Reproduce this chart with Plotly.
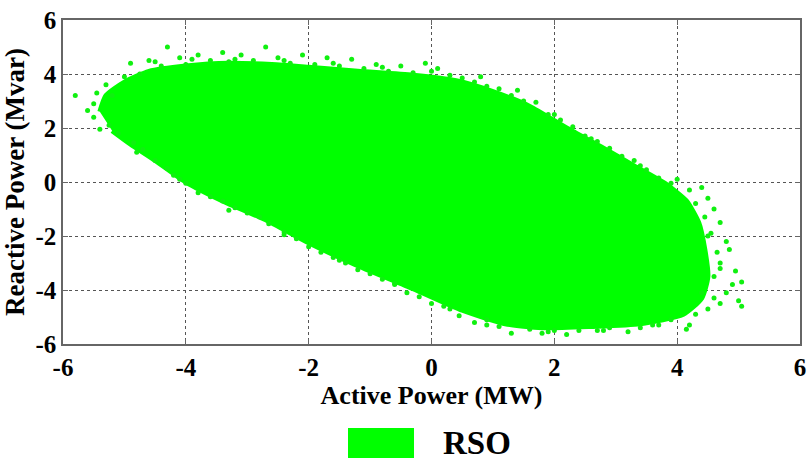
import plotly.graph_objects as go

# Dense core outline of the RSO cloud (Active Power MW, Reactive Power Mvar)
core_x = [-5.4, -5.3, -5.0, -4.6, -4.0, -3.3, -2.6, -2.0, -1.2, -0.3, 0.4, 1.0, 1.6, 2.2, 2.8, 3.3, 3.8, 4.15,
          4.35, 4.45, 4.5, 4.4, 4.1, 3.4, 2.6, 1.8, 1.2, 0.5, -0.3, -1.2, -2.0, -2.7, -3.4, -4.0, -4.5, -4.9, -5.2]
core_y = [2.6, 3.2, 3.7, 4.1, 4.3, 4.4, 4.35, 4.25, 4.1, 3.95, 3.75, 3.35, 2.8, 2.0, 1.25, 0.6, -0.05, -0.7,
          -1.5, -2.5, -3.5, -4.3, -4.9, -5.25, -5.35, -5.4, -5.25, -4.75, -3.95, -3.1, -2.25, -1.4, -0.7, -0.0, 0.8, 1.4, 1.9]

# Scattered edge points of the cloud
edge_x = [-5.8, -5.5, -5.45, -5.3, -5.2, -5.0, -4.9, -4.75, -4.6, -4.4, -4.3, -4.1, -4.0, -3.8, -3.6, -3.4,
          -3.3, -3.1, -2.9, -2.7, -2.5, -2.3, -2.1, -1.9, -1.7, -1.5, -1.3, -1.1, -0.9, -0.7, -0.5, -0.3,
          -0.1, 0.1, 0.3, 0.5, 0.7, 0.9, 1.1, 1.3, 1.5, 1.7, 1.9, 2.1, 2.3, 2.5, 2.7, 2.9, 3.1, 3.3, 3.5,
          3.7, 3.9, 4.0,
          4.2, 4.4, 4.5, 4.6, 4.45, 4.7, 4.55, 4.8, 4.65, 4.85, 4.7, 4.95, 4.6, 4.9, 5.05, 4.8, 5.0, 5.05,
          4.7, 4.5, 4.3, 4.2, 4.15,
          3.9, 3.7, 3.4, 3.2, 2.9, 2.7, 2.4, 2.2, 2.0, 1.8, 1.6, 1.3, 1.1, 0.9, 0.7, 0.45, 0.2, 0.0, -0.2,
          -0.4, -0.6, -0.8, -1.0, -1.2, -1.4, -1.6, -1.8, -2.0, -2.2, -2.4, -2.65, -2.8, -3.0, -3.2, -3.4,
          -3.6, -3.8, -4.0, -4.1, -4.3, -4.5, -4.7, -4.85, -5.1, -5.25, -5.5, -5.6,
          -4.5, -3.9, -3.2, -2.4, -1.6, -0.8, 0.0, 0.8, 1.4, 2.0, 2.6, 3.4, 4.3, 4.5, 4.7, 4.4, 4.6,
          3.6, 2.8, 1.9, 0.9, 0.3, -0.6, -1.5, -2.4, -3.3, -4.2, -4.8, -5.4]
edge_y = [3.2, 2.9, 3.3, 3.6, 3.2, 3.9, 4.4, 4.0, 4.5, 4.3, 5.0, 4.6, 4.35, 4.7, 4.5, 4.8,
          4.45, 4.7, 4.5, 5.0, 4.6, 4.4, 4.7, 4.35, 4.6, 4.3, 4.55, 4.2, 4.35, 4.1, 4.3, 4.05,
          4.4, 4.2, 3.95, 3.85, 3.7, 3.55, 3.45, 3.2, 3.0, 2.95, 2.5, 2.3, 2.05, 1.7, 1.5, 1.25, 0.95, 0.8, 0.45,
          0.15, -0.05, 0.1,
          -0.3, -0.2, -0.6, -1.0, -1.3, -1.5, -1.9, -2.2, -2.6, -2.5, -3.0, -3.3, -3.5, -3.8, -3.7, -4.1, -4.4, -4.6,
          -4.5, -4.7, -4.9, -5.3, -5.45,
          -5.1, -5.3, -5.4, -5.55, -5.4, -5.5, -5.5, -5.65, -5.5, -5.6, -5.45, -5.6, -5.35, -5.3, -5.2, -4.95, -4.6, -4.5, -4.25,
          -4.1, -3.8, -3.6, -3.4, -3.25, -3.0, -2.8, -2.6, -2.4, -2.1, -1.85, -1.55, -1.3, -1.15, -0.95, -0.7,
          -0.55, -0.4, -0.05, 0.1, 0.5, 0.8, 1.2, 1.45, 1.8, 2.1, 2.4, 2.65,
          4.45, 4.55, 4.55, 4.5, 4.4, 4.25, 4.1, 3.9, 3.4, 2.5, 1.6, 0.6, -0.8, -2.0, -3.2, -4.1, -4.3,
          -5.3, -5.5, -5.55, -5.1, -4.7, -3.75, -2.9, -1.95, -1.05, 0.25, 1.1, 1.95]

tick_vals = [-6, -4, -2, 0, 2, 4, 6]
series_name = "RSO"
x_title = "Active Power (MW)"
y_title = "Reactive Power (Mvar)"

GREEN = "#00ff00"
FONT = "Liberation Serif"

fig = go.Figure()
fig.add_trace(go.Scatter(x=core_x, y=core_y, fill="toself", fillcolor=GREEN, mode="lines",
                         line=dict(color=GREEN, width=5, shape="spline", smoothing=0.6), showlegend=False,
                         hoverinfo="skip"))
fig.add_trace(go.Scatter(x=edge_x, y=edge_y, mode="markers", name=series_name,
                         marker=dict(color="#10f010", size=5), showlegend=False))

axis_common = dict(
    range=[-6, 6], tickvals=tick_vals, ticktext=[str(v) for v in tick_vals],
    showgrid=True, gridcolor="#555555", griddash="dot", gridwidth=1,
    showline=True, linecolor="#666666", linewidth=1.5, mirror="allticks",
    ticks="inside", ticklen=5, tickcolor="#666666",
    zeroline=False,
    tickfont=dict(family=FONT, size=25, color="black", weight="bold"),
)

fig.update_xaxes(**axis_common,
                 title=dict(text=x_title, standoff=0,
                            font=dict(family=FONT, size=26, color="black", weight="bold")))
fig.update_yaxes(**axis_common,
                 title=dict(text=y_title, standoff=4,
                            font=dict(family=FONT, size=27, color="black", weight="bold")))

# Legend drawn manually: large swatch + label
L, R, T, B = 63, 800, 20, 344
W, H = R - L, B - T
fig.add_shape(type="rect", xref="paper", yref="paper",
              x0=(348 - L) / W, x1=(414 - L) / W, y0=(B - 458) / H, y1=(B - 428) / H,
              fillcolor=GREEN, line=dict(width=0))
fig.add_annotation(text=series_name, xref="paper", yref="paper",
                   x=(441 - L) / W, y=(B - 443) / H, xanchor="left", yanchor="middle",
                   showarrow=False, font=dict(family=FONT, size=33, color="black", weight="bold"))

fig.update_layout(
    width=809, height=460,
    margin=dict(l=L, r=809 - R, t=T, b=460 - B, autoexpand=False),
    paper_bgcolor="white", plot_bgcolor="white",
    showlegend=False,
)

fig.write_html("out.html")
